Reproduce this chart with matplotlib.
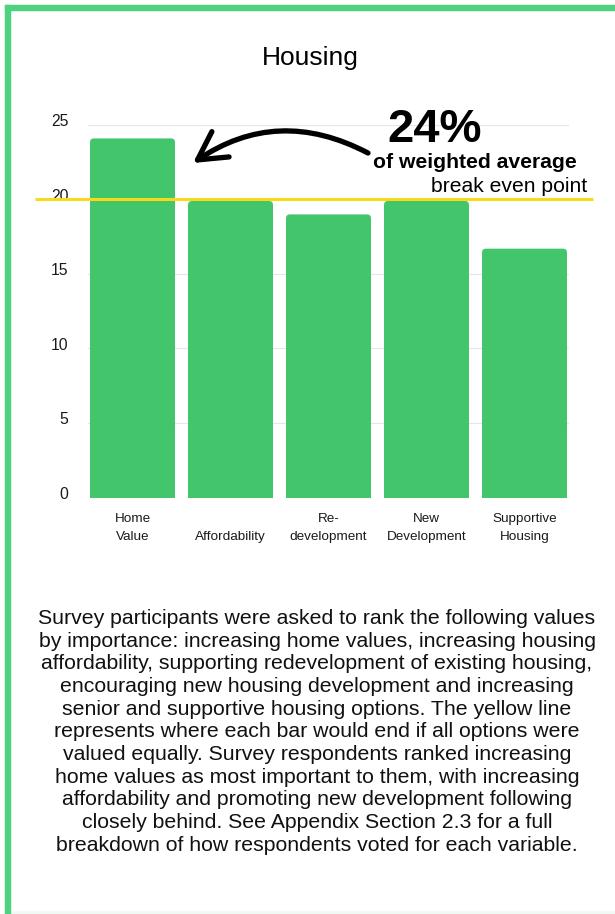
import matplotlib
matplotlib.use("Agg")
import matplotlib.pyplot as plt
import matplotlib.transforms as mtransforms
from matplotlib.patches import Rectangle, FancyBboxPatch

plt.rcParams['font.family'] = ['Liberation Sans', 'DejaVu Sans']

# data
categories = ["Home\nValue", "\nAffordability", "Re-\ndevelopment", "New\nDevelopment", "Supportive\nHousing"]
values = [24.1, 19.9, 19.0, 19.9, 16.7]
break_even = 20
y_ticks = [0, 5, 10, 15, 20, 25]

bar_color = "#43C66B"
border_color = "#4DD37F"
line_color = "#F8DA1A"

W, H = 615, 914
fig = plt.figure(figsize=(W / 100, H / 100), dpi=100)
fig.patch.set_facecolor("white")

# axes placed in pixel terms
ax_left, ax_right = 88.4, 568.6
ax_bottom, ax_top = 497.5, 125.0
ax = fig.add_axes([ax_left / W, 1 - ax_bottom / H, (ax_right - ax_left) / W, (ax_bottom - ax_top) / H])

x = list(range(len(values)))
bars = ax.bar(x, values, width=0.867, color=bar_color, zorder=2)
# rounded tops: swap rectangles for rounded boxes
for b in bars:
    b.set_visible(False)
    p = FancyBboxPatch((b.get_x(), b.get_y() - 1), b.get_width(), b.get_height() + 1,
                       boxstyle="round,pad=0,rounding_size=0.04", mutation_aspect=6.6,
                       facecolor=bar_color, edgecolor="none", zorder=2)
    ax.add_patch(p)

ax.set_xlim(-0.45, 4.45)
ax.set_ylim(0, 25)
ax.set_yticks(y_ticks)
ax.set_yticklabels([])
# y labels drawn by hand so they can sit a little above their gridlines
ylab_tf = ax.get_yaxis_transform() + mtransforms.ScaledTranslation(-20 / 100, 3 / 100, fig.dpi_scale_trans)
for t in y_ticks:
    ax.text(0, t, str(t), transform=ylab_tf, fontsize=11.3, color="#1a1a1a",
            ha="right", va="center", clip_on=False)
ax.set_xticks(x)
ax.set_xticklabels(categories, fontsize=9.7, color="#1a1a1a", linespacing=1.65)
ax.tick_params(axis="y", length=0)
ax.tick_params(axis="x", length=0, pad=11)
ax.grid(axis="y", color="#e6e6e6", linewidth=0.8, zorder=0)
for s in ax.spines.values():
    s.set_visible(False)

# break even line
ax.plot([-0.995, 4.70], [break_even, break_even], color=line_color, linewidth=2.2,
        clip_on=False, zorder=3, solid_capstyle="butt")

# curved arrow toward the first bar
ax.annotate("", xy=(0.617, 22.45), xytext=(2.403, 23.12),
            arrowprops=dict(arrowstyle="->,head_length=1.0,head_width=0.55", color="black",
                            lw=3.8, connectionstyle="arc3,rad=0.3", shrinkA=0, shrinkB=0,
                            mutation_scale=20, capstyle="round", joinstyle="round"),
            annotation_clip=False)

fig.text(310 / W, 1 - 65 / H, "Housing", fontsize=19, ha="center", va="baseline")
fig.text(434.5 / W, 1 - 142 / H, "24%", fontsize=34, fontweight="bold", ha="center", va="baseline")
fig.text(475 / W, 1 - 167.5 / H, "of weighted average", fontsize=15.2, fontweight="bold",
         ha="center", va="baseline")
fig.text(587 / W, 1 - 192.5 / H, "break even point", fontsize=15.2, ha="right", va="baseline")

paragraph = ("Survey participants were asked to rank the following values\n"
             "by importance: increasing home values, increasing housing\n"
             "affordability, supporting redevelopment of existing housing,\n"
             "encouraging new housing development and increasing\n"
             "senior and supportive housing options. The yellow line\n"
             "represents where each bar would end if all options were\n"
             "valued equally. Survey respondents ranked increasing\n"
             "home values as most important to them, with increasing\n"
             "affordability and promoting new development following\n"
             "closely behind. See Appendix Section 2.3 for a full\n"
             "breakdown of how respondents voted for each variable.")
fig.text(317 / W, 1 - 609 / H, paragraph, fontsize=15.3, ha="center", va="top",
         multialignment="center", linespacing=1.245, color="#111111")

# page border: left and top green edges, faint bottom edge
fig.add_artist(Rectangle((5 / W, 0), 5 / W, 1 - 5 / H, transform=fig.transFigure,
                         color=border_color, zorder=10))
fig.add_artist(Rectangle((5 / W, 1 - 10 / H), 1, 5 / H, transform=fig.transFigure,
                         color=border_color, zorder=10))
fig.add_artist(Rectangle((10 / W, 0), 1, 3 / H, transform=fig.transFigure,
                         color="#eefaf3", zorder=9))

fig.savefig("out.png", dpi=100, facecolor="white")
